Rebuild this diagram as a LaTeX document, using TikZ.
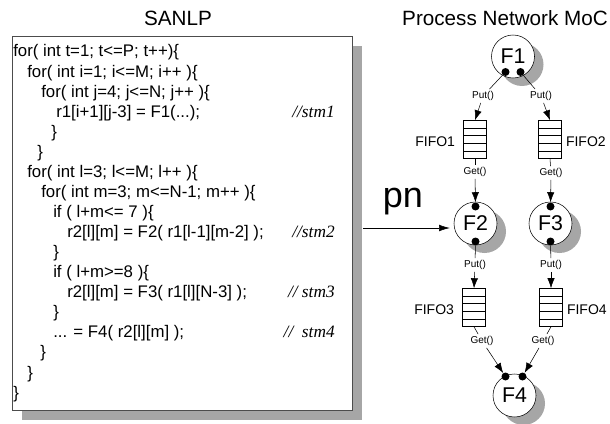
\documentclass[tikz,border=0pt]{standalone}
\usepackage{fontspec}
\setmainfont{Liberation Sans}
\newfontfamily\cmtfont{Liberation Serif}
\usetikzlibrary{calc,positioning,shadows,arrows.meta}

\tikzset{
  codeline/.style={anchor=base west, inner sep=0pt, font=\fontsize{12.6}{14}\selectfont},
  comment/.style={anchor=base east, inner sep=0pt, font=\fontsize{13}{14}\selectfont\cmtfont\itshape},
  proc/.style={circle, draw, fill=white, minimum size=32.25pt, inner sep=0pt,
    font=\fontsize{16}{18}\selectfont,
    drop shadow={shadow xshift=6.75pt, shadow yshift=-6pt, fill=black!35, opacity=1}},
  port/.style={circle, fill=black, minimum size=6pt, inner sep=0pt},
  fifo/.style={rectangle, draw, fill=white, minimum width=17.25pt, minimum height=28.5pt, inner sep=0pt,
    path picture={\foreach \k in {1,...,4}
      \draw ($(path picture bounding box.north west)!\k/5!(path picture bounding box.south west)$)
         -- ($(path picture bounding box.north east)!\k/5!(path picture bounding box.south east)$);}},
  call/.style={font=\fontsize{7.5}{8}\selectfont, inner sep=1.5pt},
  qname/.style={font=\fontsize{10.5}{12}\selectfont, inner sep=0pt},
  flow/.style={-{Latex[length=7.5pt,width=5.5pt]}},
}

\begin{document}
\begin{tikzpicture}[x=0.75pt,y=-0.75pt]
\useasboundingbox (0,0) rectangle (610,424);

% titles
\node[font=\fontsize{15.5}{18}\selectfont] (t1) at (178,18) {SANLP};
\node[font=\fontsize{15.5}{18}\selectfont] (t2) at (505,18) {Process Network MoC};

% code box
\node[draw=black!70, line width=0.5pt, fill=white, minimum width=255pt, minimum height=280.5pt,
  drop shadow={shadow xshift=7.5pt, shadow yshift=-7.5pt, fill=black!35, opacity=1}] (code) at (182,223) {};

\node[codeline] (l1) at (13,57) {for( int t=1; t<=P; t++)\{};
\node[codeline] (l2) at (27,77.1) {for( int i=1; i<=M; i++ )\{};
\node[codeline] (l3) at (41,97.1) {for( int j=4; j<=N; j++ )\{};
\node[codeline] (l4) at (56,117.2) {r1[i+1][j-3] = F1(...);};
\node[codeline] (l5) at (51,137.2) {\}};
\node[codeline] (l6) at (37,157.3) {\}};
\node[codeline] (l7) at (27,177.4) {for( int l=3; l<=M; l++ )\{};
\node[codeline] (l8) at (41,197.4) {for( int m=3; m<=N-1; m++ )\{};
\node[codeline] (l9) at (53,217.5) {if ( l+m<= 7 )\{};
\node[codeline] (l10) at (67,237.5) {r2[l][m] = F2( r1[l-1][m-2] );};
\node[codeline] (l11) at (53,257.6) {\}};
\node[codeline] (l12) at (53,277.7) {if ( l+m>=8 )\{};
\node[codeline] (l13) at (67,297.7) {r2[l][m] = F3( r1[l][N-3] );};
\node[codeline] (l14) at (53,317.8) {\}};
\node[codeline] (l15) at (53,337.8) {... = F4( r2[l][m] );};
\node[codeline] (l16) at (40,357.9) {\}};
\node[codeline] (l17) at (27,378) {\}};
\node[codeline] (l18) at (13,398) {\}};

\node[comment] (c1) at (335,117.2) {//stm1};
\node[comment] (c2) at (335,237.5) {//stm2};
\node[comment] (c3) at (335,297.7) {// stm3};
\node[comment] (c4) at (335,337.8) {//\ \ stm4};

% processes
\node[proc] (F1) at (513,56.5) {F1};
\node[proc] (F2) at (475.5,223.5) {F2};
\node[proc] (F3) at (550.5,223.5) {F3};
\node[proc] (F4) at (514.5,395.5) {F4};

\node[port] (p1a) at ($(F1)+(-7.5,15.5)$) {};
\node[port] (p1b) at ($(F1)+(7.5,15.5)$) {};
\node[port] (p2t) at ($(F2)+(0,-17)$) {};
\node[port] (p2b) at ($(F2)+(0,18)$) {};
\node[port] (p3t) at ($(F3)+(0,-17)$) {};
\node[port] (p3b) at ($(F3)+(0,18)$) {};
\node[port] (p4a) at ($(F4)+(-9,-19)$) {};
\node[port] (p4b) at ($(F4)+(8,-19)$) {};

% pn arrow
\coordinate (pnS) at (363,228);
\draw[-{Latex[length=8pt,width=5pt]}] (pnS) -- ($(pnS -| F2.west)+(-4,0)$);
\node[font=\fontsize{27}{30}\selectfont, inner sep=0pt] (pn) at (403,202) {pn};

% channels
\node[fifo] (q1) at (475,139.5) {};
\node[fifo] (q2) at (550,139.5) {};
\node[fifo] (q3) at (474,307.5) {};
\node[fifo] (q4) at (551,307.5) {};

\node[qname, left=6pt of q1, yshift=-2pt] (n1) {FIFO1};
\node[qname, right=3pt of q2, yshift=-2pt] (n2) {FIFO2};
\node[qname, left=6pt of q3, yshift=-2pt] (n3) {FIFO3};
\node[qname, right=3pt of q4, yshift=-2pt] (n4) {FIFO4};

\node[call] (u1) at (483,96) {Put()};
\node[call] (u2) at (541,96) {Put()};
\node[call] (g1) at (475,172) {Get()};
\node[call] (g2) at (551,173) {Get()};
\node[call] (u3) at (475,265) {Put()};
\node[call] (u4) at (551,265) {Put()};
\node[call] (g3) at (482,341) {Get()};
\node[call] (g4) at (543,341) {Get()};

\draw (p1a) -- (u1);
\draw[flow] (u1) -- (q1.north);
\draw (p1b) -- (u2);
\draw[flow] (u2) -- (q2.north);
\draw (q1.south) -- (g1);
\draw[flow] (g1) -- (p2t);
\draw (q2.south) -- (g2);
\draw[flow] (g2) -- (p3t);
\draw (p2b) -- (u3);
\draw[flow] (u3) -- (q3.north);
\draw (p3b) -- (u4);
\draw[flow] (u4) -- (q4.north);
\draw (q3.south) -- (g3);
\draw[flow] (g3) -- (p4a);
\draw (q4.south) -- (g4);
\draw[flow] (g4) -- (p4b);
\end{tikzpicture}
\end{document}
